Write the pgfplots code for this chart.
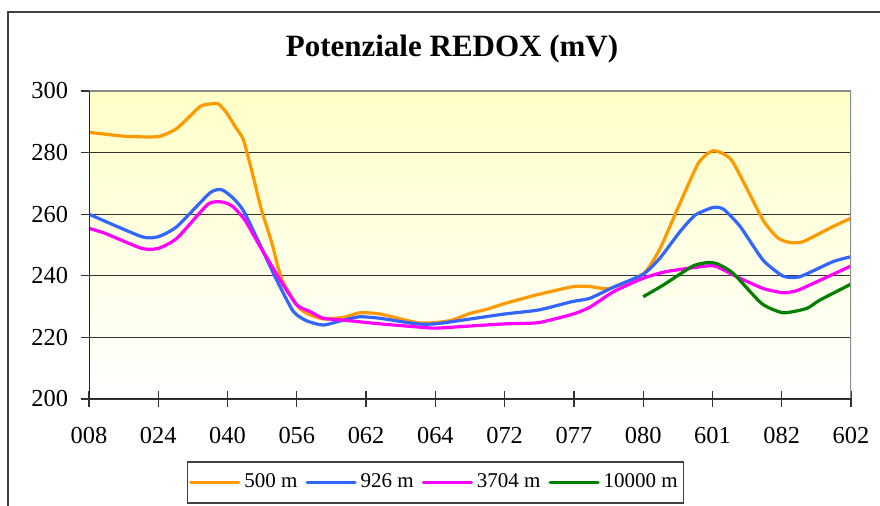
\documentclass[border=0pt]{standalone}
\usepackage{fontspec}
\setmainfont{Liberation Serif}
\usepackage{pgfplots}
\pgfplotsset{compat=1.18}
\definecolor{cOr}{RGB}{255,153,0}
\definecolor{cBl}{RGB}{51,102,255}
\definecolor{cMa}{RGB}{255,0,255}
\definecolor{cGr}{RGB}{0,128,0}
\definecolor{bgY}{RGB}{255,255,200}
\begin{document}
\begin{tikzpicture}
\useasboundingbox (0,0) rectangle (440bp,253bp);
\draw[line width=1bp, black!75] (4.2bp,-20bp) -- (4.2bp,247bp) -- (470bp,247bp);
\node[font=\fontsize{15.5bp}{18bp}\selectfont\bfseries, anchor=base] at (226bp,224.5bp) {Potenziale REDOX (mV)};
\begin{axis}[
  at={(44.5bp,53.5bp)}, anchor=south west,
  scale only axis, width=381bp, height=154bp,
  xmin=0, xmax=11, ymin=200, ymax=300,
  xtick={0,...,11},
  xticklabels={008,024,040,056,062,064,072,077,080,601,082,602},
  ytick={200,220,...,300},
  tick align=center, major tick length=8bp,
  tick style={black!80, line width=0.6bp},
  xtick pos=bottom, ytick pos=left,
  ymajorgrids, major grid style={black!80, line width=0.5bp},
  axis line style={draw=none},
  axis background/.style={shade, top color=bgY, bottom color=white},
  /pgf/number format/assume math mode=true,
  tick label style={font=\fontsize{12.2bp}{14bp}\selectfont},
  xticklabel style={yshift=-6.5bp},
  yticklabel style={xshift=-3bp},
  legend style={at={(0.4547,-0.271)}, anchor=center, draw=black!75, line width=0.7bp,
    font=\fontsize{10.5bp}{12bp}\selectfont, inner xsep=1bp, inner ysep=4bp,
    /tikz/every even column/.append style={column sep=2bp}},
  legend columns=4,
  legend image code/.code={\draw[#1, line width=1.6bp, line cap=round] (0bp,0bp) -- (24bp,0bp);},
  every axis plot/.append style={line width=1.6bp, smooth, tension=0.35, line join=round},
  clip=true,
]
\addplot[cOr] table {
x y
0 286.6
0.52 285.3
1.0 285.2
1.27 287.9
1.60 294.9
1.75 295.8
1.87 295.8
1.99 292.8
2.11 288.4
2.23 284.1
2.37 272.2
2.49 261.4
2.64 250.6
2.78 239.0
3.0 230.5
3.14 227.8
3.38 226.0
3.67 226.5
3.91 228.0
4.20 227.6
4.73 224.8
5.0 224.8
5.24 225.6
5.50 227.8
5.74 229.1
6.0 231.0
6.46 233.8
6.99 236.5
7.23 236.5
7.52 235.9
8.0 240.6
8.24 248.7
8.53 263.5
8.80 276.7
9.01 280.6
9.28 277.4
9.73 258.1
9.95 252.2
10.12 250.8
10.31 251.1
10.74 256.0
11.0 258.7
};
\addlegendentry{500 m}
\addplot[cBl] table {
x y
0 260.0
0.76 252.7
1.0 252.7
1.27 256.0
1.75 267.0
1.92 267.9
2.08 265.2
2.25 260.3
2.71 238.6
2.95 228.4
3.14 225.4
3.38 224.0
3.67 225.6
3.91 226.7
4.20 226.2
4.73 224.4
5.0 224.4
5.48 225.9
6.0 227.6
6.49 228.9
6.97 231.6
7.23 232.7
7.57 236.3
8.0 240.5
8.24 245.7
8.53 254.3
8.75 259.7
9.01 262.2
9.16 261.6
9.40 256.0
9.73 245.1
10.02 239.9
10.26 239.7
10.74 244.6
11.0 246.2
};
\addlegendentry{926 m}
\addplot[cMa] table {
x y
0 255.4
0.23 253.8
0.76 248.9
1.0 248.9
1.27 252.2
1.72 263.3
1.94 263.9
2.08 262.4
2.25 258.1
2.47 249.5
2.76 238.6
3.0 230.5
3.19 228.4
3.38 226.2
3.67 225.6
4.20 224.4
4.68 223.5
5.0 223.0
5.50 223.7
6.0 224.4
6.49 224.8
6.99 227.6
7.23 229.8
7.57 234.8
8.0 239.2
8.34 241.4
8.92 243.2
9.06 243.0
9.35 239.7
9.73 235.9
10.02 234.5
10.22 235.2
10.51 238.1
11.0 243.2
};
\addlegendentry{3704 m}
\addplot[cGr] table {
x y
8.0 233.2
8.29 237.0
8.72 243.2
8.94 244.3
9.08 243.8
9.30 240.8
9.71 231.0
10.02 228.0
10.36 229.4
10.55 232.1
11.0 237.3
};
\addlegendentry{10000 m}
\draw[black!45, line width=0.8bp] (rel axis cs:0,1) -- (rel axis cs:1,1) -- (rel axis cs:1,0);
\draw[black!85, line width=0.8bp] (rel axis cs:0,1) -- (rel axis cs:0,0) -- (rel axis cs:1,0);
\end{axis}
\end{tikzpicture}
\end{document}
